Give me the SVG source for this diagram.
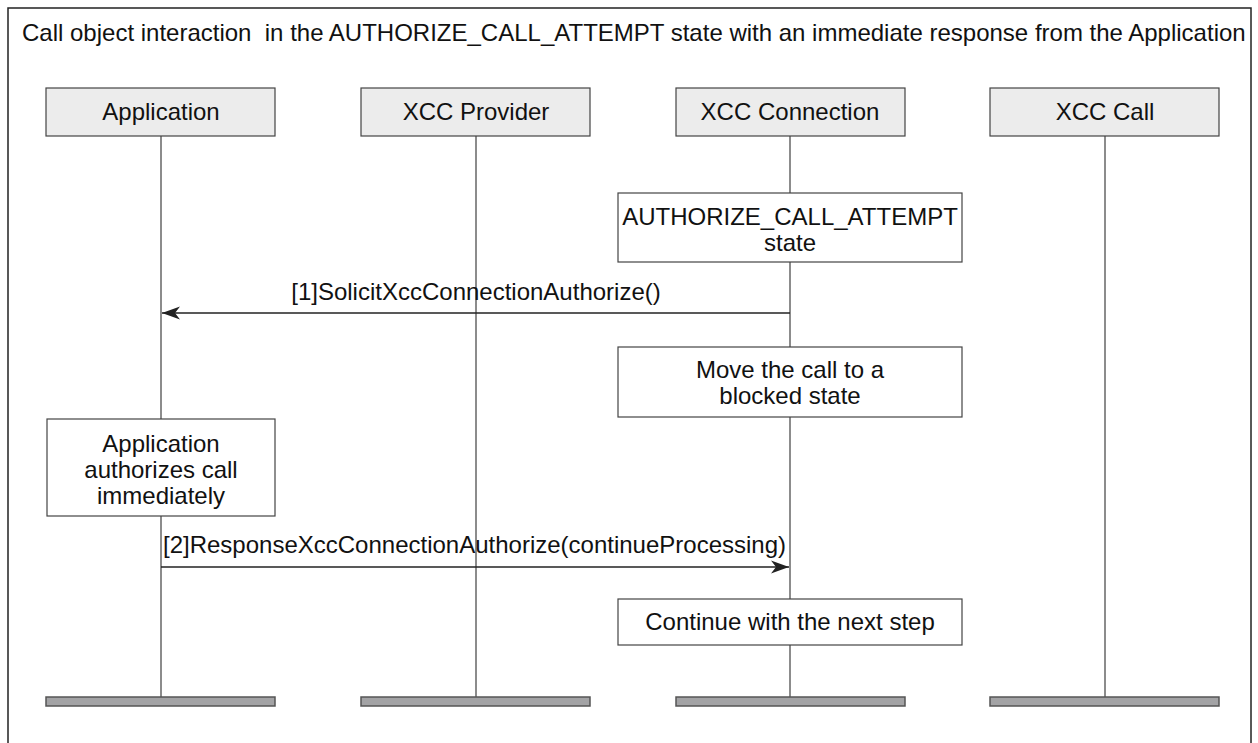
<svg xmlns="http://www.w3.org/2000/svg" width="1258" height="743" viewBox="0 0 1258 743">
<style>
text{font-family:"Liberation Sans",Arial,sans-serif;font-size:24px;fill:#111;}
.c{text-anchor:middle;}
.frame{fill:#fff;stroke:#222;stroke-width:1.5;}
.head{fill:#ececec;stroke:#444;stroke-width:1.2;}
.box{fill:#fff;stroke:#444;stroke-width:1.2;}
.life{stroke:#666;stroke-width:1.5;}
.bar{fill:#a3a3a5;stroke:#555;stroke-width:1.5;}
.msg{stroke:#222;stroke-width:1.3;fill:none;}
</style>
<defs>
<marker id="ah" markerWidth="20" markerHeight="14" refX="18" refY="7" orient="auto" markerUnits="userSpaceOnUse">
<path d="M18,7 L0,0.5 L5,7 L0,13.5 Z" fill="#222"/>
</marker>
</defs>
<rect class="frame" x="8" y="8" width="1243" height="740"/>
<text x="22" y="41" id="title" xml:space="preserve">Call object interaction  in the AUTHORIZE_CALL_ATTEMPT state with an immediate response from the Application</text>
<g id="lifelines">
<line class="life" x1="161" y1="136" x2="161" y2="697"/>
<line class="life" x1="476" y1="136" x2="476" y2="697"/>
<line class="life" x1="790" y1="136" x2="790" y2="697"/>
<line class="life" x1="1105" y1="136" x2="1105" y2="697"/>
</g>
<g id="node-application"><rect class="head" x="46" y="88" width="229" height="48"/><text class="c" x="161" y="120">Application</text></g>
<g id="node-provider"><rect class="head" x="361" y="88" width="229" height="48"/><text class="c" x="476" y="120">XCC Provider</text></g>
<g id="node-connection"><rect class="head" x="676" y="88" width="229" height="48"/><text class="c" x="790" y="120">XCC Connection</text></g>
<g id="node-call"><rect class="head" x="990" y="88" width="229" height="48"/><text class="c" x="1105" y="120">XCC Call</text></g>
<g id="node-auth-state"><rect class="box" x="618" y="193" width="344" height="69"/><text class="c" x="790" y="225">AUTHORIZE_CALL_ATTEMPT</text><text class="c" x="790" y="251">state</text></g>
<g id="node-blocked"><rect class="box" x="618" y="347" width="344" height="70"/><text class="c" x="790" y="378">Move the call to a</text><text class="c" x="790" y="404">blocked state</text></g>
<g id="node-app-auth"><rect class="box" x="47" y="419" width="228" height="97"/><text class="c" x="161" y="452">Application</text><text class="c" x="161" y="478">authorizes call</text><text class="c" x="161" y="504">immediately</text></g>
<g id="node-continue"><rect class="box" x="618" y="599" width="344" height="46"/><text class="c" x="790" y="630">Continue with the next step</text></g>
<g id="bars">
<rect class="bar" x="46" y="697" width="229" height="9"/>
<rect class="bar" x="361" y="697" width="229" height="9"/>
<rect class="bar" x="676" y="697" width="229" height="9"/>
<rect class="bar" x="990" y="697" width="229" height="9"/>
</g>
<g id="connectors">
<line class="msg" x1="790" y1="313" x2="162" y2="313" marker-end="url(#ah)"/>
<text class="c" x="476" y="300">[1]SolicitXccConnectionAuthorize()</text>
<line class="msg" x1="161" y1="567" x2="789" y2="567" marker-end="url(#ah)"/>
<text x="163" y="553">[2]ResponseXccConnectionAuthorize(continueProcessing)</text>
</g>
</svg>
